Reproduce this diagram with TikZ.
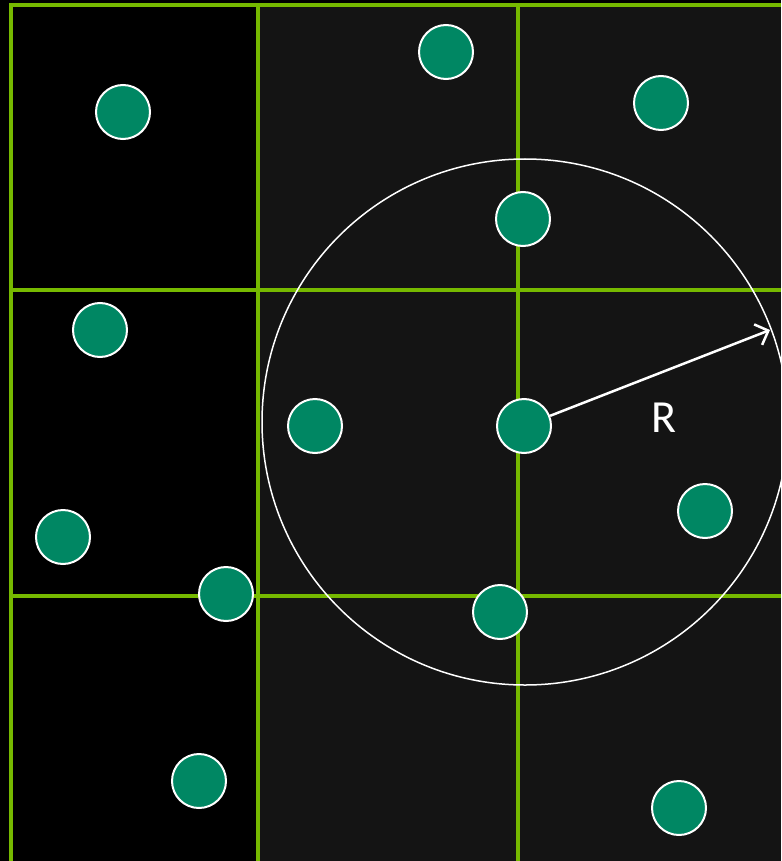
\documentclass[tikz,border=0pt]{standalone}
\usepackage{fontspec}
\setmainfont{Carlito}
\usetikzlibrary{arrows.meta}
\definecolor{cellgreen}{HTML}{76B900}
\definecolor{partfill}{HTML}{008763}
\definecolor{cellgray}{HTML}{141414}
\tikzset{
    particle/.style={circle, draw=white, line width=2pt, fill=partfill, minimum size=54pt, inner sep=0pt},
    gridline/.style={cellgreen, line width=3.2pt}
}
\begin{document}
\begin{tikzpicture}[x=1pt, y=-1pt]
    \useasboundingbox (0, 0) rectangle (781, 861);
    \fill[black] (0, 0) rectangle (781, 861);
    \fill[cellgray] (258, 5) rectangle (781, 861);
    % cell grid
    \draw[gridline] (11, 861) -- (11, 5) -- (781, 5);
    \foreach \gx in {258, 518}
        \draw[gridline] (\gx, 5) -- (\gx, 861);
    \foreach \gy in {290, 596}
        \draw[gridline] (11, \gy) -- (781, \gy);
    % cutoff radius
    \draw[white, line width=1.5pt] (525, 422) circle (263);
    % particles
    \node[particle] (p1) at (123, 112) {};
    \node[particle] (p2) at (446, 52) {};
    \node[particle] (p3) at (661, 103) {};
    \node[particle] (p4) at (523, 219) {};
    \node[particle] (p5) at (100, 330) {};
    \node[particle] (p6) at (315, 426) {};
    \node[particle] (p7) at (524, 426) {};
    \node[particle] (p8) at (705, 511) {};
    \node[particle] (p9) at (63, 537) {};
    \node[particle] (p10) at (226, 594) {};
    \node[particle] (p11) at (500, 612) {};
    \node[particle] (p12) at (199, 781) {};
    \node[particle] (p13) at (679, 808) {};
    \coordinate (tip) at (770, 330);
    \draw[white, line width=2.5pt, -{Straight Barb[length=11pt, width=22pt]}] (p7) -- (tip);
    \node[white, font=\fontsize{46}{46}\selectfont] (rlabel) at (664, 418) {R};
\end{tikzpicture}
\end{document}
